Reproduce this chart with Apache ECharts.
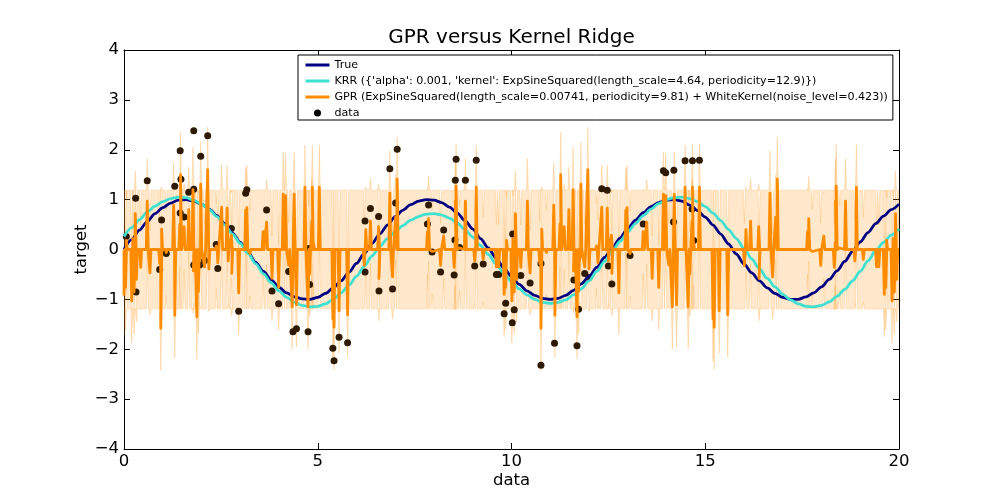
<!DOCTYPE html>
<html><head><meta charset="utf-8">
<script src="https://cdn.jsdelivr.net/npm/echarts@6/dist/echarts.min.js"></script>
<style>html,body{margin:0;padding:0;background:#fff}#c{width:1000px;height:500px}</style>
</head><body><div id="c"></div>
<script>
// ---------- data ----------
const curveX = [0,0.2,0.4,0.6,0.8,1,1.2,1.4,1.6,1.8,2,2.2,2.4,2.6,2.8,3,3.2,3.4,3.6,3.8,4,4.2,4.4,4.6,4.8,5,5.2,5.4,5.6,5.8,6,6.2,6.4,6.6,6.8,7,7.2,7.4,7.6,7.8,8,8.2,8.4,8.6,8.8,9,9.2,9.4,9.6,9.8,10,10.2,10.4,10.6,10.8,11,11.2,11.4,11.6,11.8,12,12.2,12.4,12.6,12.8,13,13.2,13.4,13.6,13.8,14,14.2,14.4,14.6,14.8,15,15.2,15.4,15.6,15.8,16,16.2,16.4,16.6,16.8,17,17.2,17.4,17.6,17.8,18,18.2,18.4,18.6,18.8,19,19.2,19.4,19.6,19.8,20];
const trueY = [0.00,0.20,0.39,0.56,0.72,0.84,0.93,0.99,1.00,0.97,0.91,0.81,0.68,0.52,0.33,0.14,-0.06,-0.26,-0.44,-0.61,-0.76,-0.87,-0.95,-0.99,-1.00,-0.96,-0.88,-0.77,-0.63,-0.46,-0.28,-0.08,0.12,0.31,0.49,0.66,0.79,0.90,0.97,1.00,0.99,0.94,0.85,0.73,0.58,0.41,0.22,0.03,-0.17,-0.37,-0.54,-0.70,-0.83,-0.92,-0.98,-1.00,-0.98,-0.92,-0.82,-0.69,-0.54,-0.36,-0.16,0.03,0.23,0.42,0.59,0.74,0.86,0.94,0.99,1.00,0.97,0.89,0.78,0.65,0.49,0.31,0.11,-0.09,-0.29,-0.47,-0.63,-0.77,-0.88,-0.96,-1.00,-1.00,-0.95,-0.87,-0.75,-0.60,-0.43,-0.24,-0.04,0.15,0.34,0.52,0.67,0.80,0.91];
const krrY = [0.26,0.44,0.60,0.75,0.87,0.96,1.02,1.05,1.04,0.99,0.91,0.80,0.66,0.49,0.31,0.12,-0.08,-0.29,-0.49,-0.67,-0.83,-0.96,-1.06,-1.12,-1.15,-1.14,-1.09,-1.00,-0.87,-0.72,-0.54,-0.34,-0.13,0.06,0.22,0.36,0.48,0.59,0.66,0.71,0.72,0.69,0.63,0.53,0.40,0.25,0.08,-0.10,-0.29,-0.47,-0.64,-0.79,-0.91,-1.00,-1.06,-1.08,-1.06,-1.01,-0.91,-0.79,-0.63,-0.44,-0.24,-0.03,0.16,0.35,0.52,0.68,0.81,0.92,1.00,1.04,1.05,1.02,0.96,0.86,0.73,0.58,0.40,0.22,0.02,-0.19,-0.39,-0.58,-0.75,-0.90,-1.01,-1.09,-1.14,-1.15,-1.12,-1.05,-0.94,-0.80,-0.63,-0.44,-0.23,-0.02,0.14,0.29,0.42];

const dataX = [0.06,0.30,0.31,0.60,0.92,0.97,1.09,1.31,1.45,1.45,1.47,1.55,1.67,1.80,1.80,1.80,1.95,1.98,2.08,2.16,2.38,2.42,2.77,2.96,3.14,3.17,3.68,3.82,3.99,4.25,4.36,4.45,4.75,4.77,4.79,5.39,5.42,5.55,5.77,6.22,6.22,6.36,6.57,6.58,6.86,6.93,7.01,7.05,7.83,7.86,7.95,8.17,8.25,8.52,8.54,8.55,8.57,8.66,8.81,9.05,9.09,9.27,9.61,9.67,9.81,9.85,10.02,10.03,10.07,10.24,10.48,10.76,10.76,11.11,11.61,11.69,11.73,11.89,12.00,12.33,12.47,12.50,12.59,13.06,13.40,13.92,13.98,14.18,14.19,14.48,14.66,14.67,14.70,14.85];
const dataY = [0.26,1.03,-0.85,1.38,-0.40,0.59,-0.08,1.27,1.98,0.73,1.41,0.65,1.15,1.21,2.38,-0.31,-0.31,1.87,-0.22,2.28,0.10,-0.38,0.42,-1.24,1.13,1.20,0.79,-0.83,-1.09,-0.44,-1.65,-1.59,-1.65,0.02,-0.70,-1.98,-2.23,-1.76,-1.87,-0.45,0.57,0.82,0.66,-0.83,1.62,-0.79,0.93,2.01,0.51,0.89,-0.05,-0.45,0.39,-0.51,0.19,1.39,1.81,0.04,1.39,-0.33,1.79,-0.29,-0.50,-0.50,-1.29,-1.08,-1.47,0.31,-1.21,-0.52,-0.67,-0.28,-2.32,-1.88,-0.61,-1.93,-1.20,-0.48,-0.56,1.22,1.19,-0.33,-0.69,-0.12,0.51,1.58,1.54,0.55,1.59,1.78,0.81,1.78,0.18,1.79];

// GPR mean: flat 0 with narrow spikes (position, peak value)
const gprX = [0.00,0.04,0.06,0.20,0.23,0.26,0.29,0.32,0.43,0.60,0.67,0.92,0.95,0.97,1.09,1.28,1.31,1.44,1.46,1.55,1.67,1.78,1.79,1.81,1.88,1.92,1.95,1.98,2.08,2.16,2.19,2.38,2.42,2.52,2.66,2.69,2.77,2.78,2.96,3.14,3.17,3.25,3.59,3.68,3.82,3.99,4.11,4.17,4.25,4.34,4.39,4.45,4.67,4.75,4.77,4.79,4.85,4.86,4.89,5.04,5.39,5.42,5.55,5.77,6.20,6.24,6.36,6.57,6.58,6.86,6.93,7.01,7.05,7.83,7.86,7.95,8.17,8.25,8.52,8.54,8.55,8.57,8.66,8.81,9.05,9.09,9.27,9.61,9.67,
  9.81,9.85,9.87,10.01,10.04,10.07,10.10,10.13,10.24,10.41,10.48,10.73,10.76,10.78,10.90,11.09,11.12,11.25,11.27,11.36,11.48,11.59,11.60,11.62,11.69,11.73,11.76,11.79,11.89,11.97,12.00,12.19,12.23,12.33,12.47,12.50,12.58,12.59,12.77,12.95,12.98,13.06,13.40,13.49,13.63,13.80,13.92,13.98,14.06,14.15,14.20,14.26,14.48,14.56,14.58,14.60,14.66,14.67,14.70,14.85,15.20,15.23,15.36,15.58,16.01,16.05,16.17,16.38,16.39,16.67,16.74,16.82,16.86,17.64,17.67,17.76,17.98,18.06,18.33,18.35,18.36,18.38,18.47,18.62,18.86,18.90,19.08,19.42,19.48,
  19.62,19.66,19.68,19.82,19.85,19.88,19.91,19.94];
const gprY = [-0.90,-0.76,0.18,-1.03,0.22,-0.85,0.72,-0.60,-0.36,0.97,-0.47,-0.28,-1.58,0.41,-0.06,0.89,-1.32,0.51,1.50,0.46,0.80,1.20,-0.43,-0.22,-1.35,-0.84,-0.22,1.31,-0.35,1.60,-0.39,0.07,-0.27,0.85,0.83,-0.23,0.29,-0.48,-0.87,0.79,0.84,-0.08,0.36,0.55,-0.58,-0.76,1.11,1.08,-0.31,-1.15,1.11,-1.11,1.25,-1.15,0.01,-0.49,0.57,1.25,0.13,1.25,-1.39,-1.56,-1.23,-1.31,-0.32,0.40,0.57,0.46,-0.58,1.13,-0.55,0.65,1.41,0.36,0.62,-0.04,-0.32,0.27,-0.36,0.13,0.97,1.27,0.03,0.97,-0.23,1.25,-0.20,-0.35,-0.35,
  -0.90,-0.76,0.18,-1.03,0.22,-0.85,0.72,-0.60,-0.36,0.97,-0.47,-0.28,-1.58,0.41,-0.06,0.89,-1.32,0.51,1.50,0.46,0.80,1.20,-0.43,-0.22,-1.35,-0.84,-0.22,1.31,-0.35,1.60,-0.39,0.07,-0.27,0.85,0.83,-0.23,0.29,-0.48,-0.87,0.79,0.84,-0.08,0.36,0.55,-0.58,-0.76,1.11,1.08,-0.31,-1.15,1.11,-1.11,1.25,-1.15,0.01,-0.49,0.57,1.25,0.13,1.25,-1.39,-1.56,-1.23,-1.31,-0.32,0.40,0.57,0.46,-0.58,1.13,-0.55,0.65,1.41,0.36,0.62,-0.04,-0.32,0.27,-0.36,0.13,0.97,1.27,0.03,0.97,-0.23,1.25,-0.20,-0.35,-0.35,
  -0.90,-0.76,0.18,-1.03,0.22,-0.85,0.72,-0.60];
// GPR standard deviation: away from data / right at a data point
const gprStd = 1.19;
const gprStdAtData = 0.85;

const xTicks = [0, 5, 10, 15, 20];
const yTicks = [-4, -3, -2, -1, 0, 1, 2, 3, 4];

const NAME_TRUE = 'True';
const NAME_KRR = "KRR ({'alpha': 0.001, 'kernel': ExpSineSquared(length_scale=4.64, periodicity=12.9)})";
const NAME_GPR = 'GPR (ExpSineSquared(length_scale=0.00741, periodicity=9.81) + WhiteKernel(noise_level=0.423))';
const NAME_DATA = 'data';

// ---------- build tables for the library ----------
const HW = 0.025; // spike half-width in data units (visual)
const gprLine = [[xTicks[0], 0]];
const bandUp = [[xTicks[0], gprStd]];
const bandLo = [[xTicks[0], -gprStd]];
for (let i = 0; i < gprX.length; i++) {
  const x = gprX[i], h = gprY[i];
  gprLine.push([x - HW, 0], [x, h], [x + HW, 0]);
  bandUp.push([x - HW, gprStd], [x, h + gprStdAtData], [x + HW, gprStd]);
  bandLo.push([x - HW, -gprStd], [x, h - gprStdAtData], [x + HW, -gprStd]);
}
const xEnd = xTicks[xTicks.length - 1];
gprLine.push([xEnd, 0]); bandUp.push([xEnd, gprStd]); bandLo.push([xEnd, -gprStd]);
const bandPoly = bandUp.concat(bandLo.slice().reverse());

const trueData = curveX.map((x, i) => [x, trueY[i]]);
const krrData = curveX.map((x, i) => [x, krrY[i]]);
const scatterData = dataX.map((x, i) => [x, dataY[i]]);

const FONT = 'DejaVu Sans';
const fmtY = v => (v < 0 ? '\u2212' + Math.abs(v) : String(v));
const noSymbol = { color: 'rgba(0,0,0,0)', borderWidth: 0, opacity: 0 };

const axisCommon = {
  axisLine: { show: true, onZero: false, lineStyle: { color: '#000', width: 1 } },
  axisTick: { show: true, inside: true, length: 6, lineStyle: { color: '#000', width: 1 } },
  splitLine: { show: false },
  minorTick: { show: false }
};

const chart = echarts.init(document.getElementById('c'), null, { renderer: 'canvas' });
chart.setOption({
  animation: false,
  backgroundColor: '#fff',
  title: {
    text: 'GPR versus Kernel Ridge',
    left: 511.5, top: 28, textAlign: 'center', padding: 0,
    textStyle: { fontFamily: FONT, fontSize: 20, fontWeight: 'normal', color: '#000' }
  },
  grid: { left: 124, right: 101, top: 50, bottom: 51, containLabel: false, outerBoundsMode: 'none' },
  legend: {
    left: 298, top: 55, orient: 'vertical',
    padding: [3, 5, 0, 6],
    itemWidth: 24, itemHeight: 7, itemGap: 2,
    backgroundColor: '#fff', borderColor: '#000', borderWidth: 1, borderRadius: 0,
    textStyle: { fontFamily: FONT, fontSize: 11.1, color: '#000', lineHeight: 14 },
    lineStyle: { width: 3 },
    selectedMode: false,
    data: [
      { name: NAME_TRUE, itemStyle: noSymbol },
      { name: NAME_KRR, itemStyle: noSymbol },
      { name: NAME_GPR, itemStyle: noSymbol },
      { name: NAME_DATA, icon: 'circle', itemStyle: { color: '#000', opacity: 1 } }
    ]
  },
  xAxis: [
    Object.assign({}, axisCommon, {
      type: 'value', position: 'bottom', min: xTicks[0], max: xEnd, interval: 5,
      axisLabel: { show: true, margin: 4, color: '#000', fontFamily: FONT, fontSize: 16.5 },
      name: 'data', nameLocation: 'middle', nameGap: 23.5, nameMoveOverlap: false,
      nameTextStyle: { fontFamily: FONT, fontSize: 16.5, color: '#000' }
    }),
    Object.assign({}, axisCommon, {
      type: 'value', position: 'top', min: xTicks[0], max: xEnd, interval: 5,
      axisLabel: { show: false }
    })
  ],
  yAxis: [
    Object.assign({}, axisCommon, {
      type: 'value', position: 'left', min: yTicks[0], max: yTicks[yTicks.length - 1], interval: 1,
      axisLabel: { show: true, margin: 5, color: '#000', fontFamily: FONT, fontSize: 16.5, formatter: fmtY },
      name: 'target', nameLocation: 'middle', nameGap: 34, nameRotate: 90, nameMoveOverlap: false,
      nameTextStyle: { fontFamily: FONT, fontSize: 16.5, color: '#000' }
    }),
    Object.assign({}, axisCommon, {
      type: 'value', position: 'right', min: yTicks[0], max: yTicks[yTicks.length - 1], interval: 1,
      axisLabel: { show: false }
    })
  ],
  series: [
    {
      type: 'custom', silent: true, clip: true,
      xAxisIndex: 0, yAxisIndex: 0,
      data: [[0, 0]],
      renderItem: function (params, api) {
        const pts = bandPoly.map(p => api.coord(p));
        return {
          type: 'polygon',
          shape: { points: pts },
          style: { fill: 'rgba(255,140,0,0.2)', stroke: 'rgba(255,140,0,0.2)', lineWidth: 1 }
        };
      }
    },
    {
      name: NAME_DATA, type: 'scatter', data: scatterData,
      symbol: 'circle', symbolSize: 7,
      itemStyle: { color: '#2e1a02', borderWidth: 0, opacity: 1 }, silent: true
    },
    {
      name: NAME_TRUE, type: 'line', data: trueData, showSymbol: false, symbol: 'none',
      smooth: 0.3, smoothMonotone: 'x', silent: true,
      itemStyle: { color: '#000080' },
      lineStyle: { color: '#000080', width: 2.8 }
    },
    {
      name: NAME_KRR, type: 'line', data: krrData, showSymbol: false, symbol: 'none',
      smooth: 0.3, smoothMonotone: 'x', silent: true,
      itemStyle: { color: '#40e0d0' },
      lineStyle: { color: '#40e0d0', width: 2.8 }
    },
    {
      name: NAME_GPR, type: 'line', data: gprLine, showSymbol: false, symbol: 'none',
      sampling: null, silent: true, clip: true,
      itemStyle: { color: '#ff8c00' },
      lineStyle: { color: '#ff8c00', width: 2.8, join: 'round' }
    }
  ]
});
</script>
</body></html>
